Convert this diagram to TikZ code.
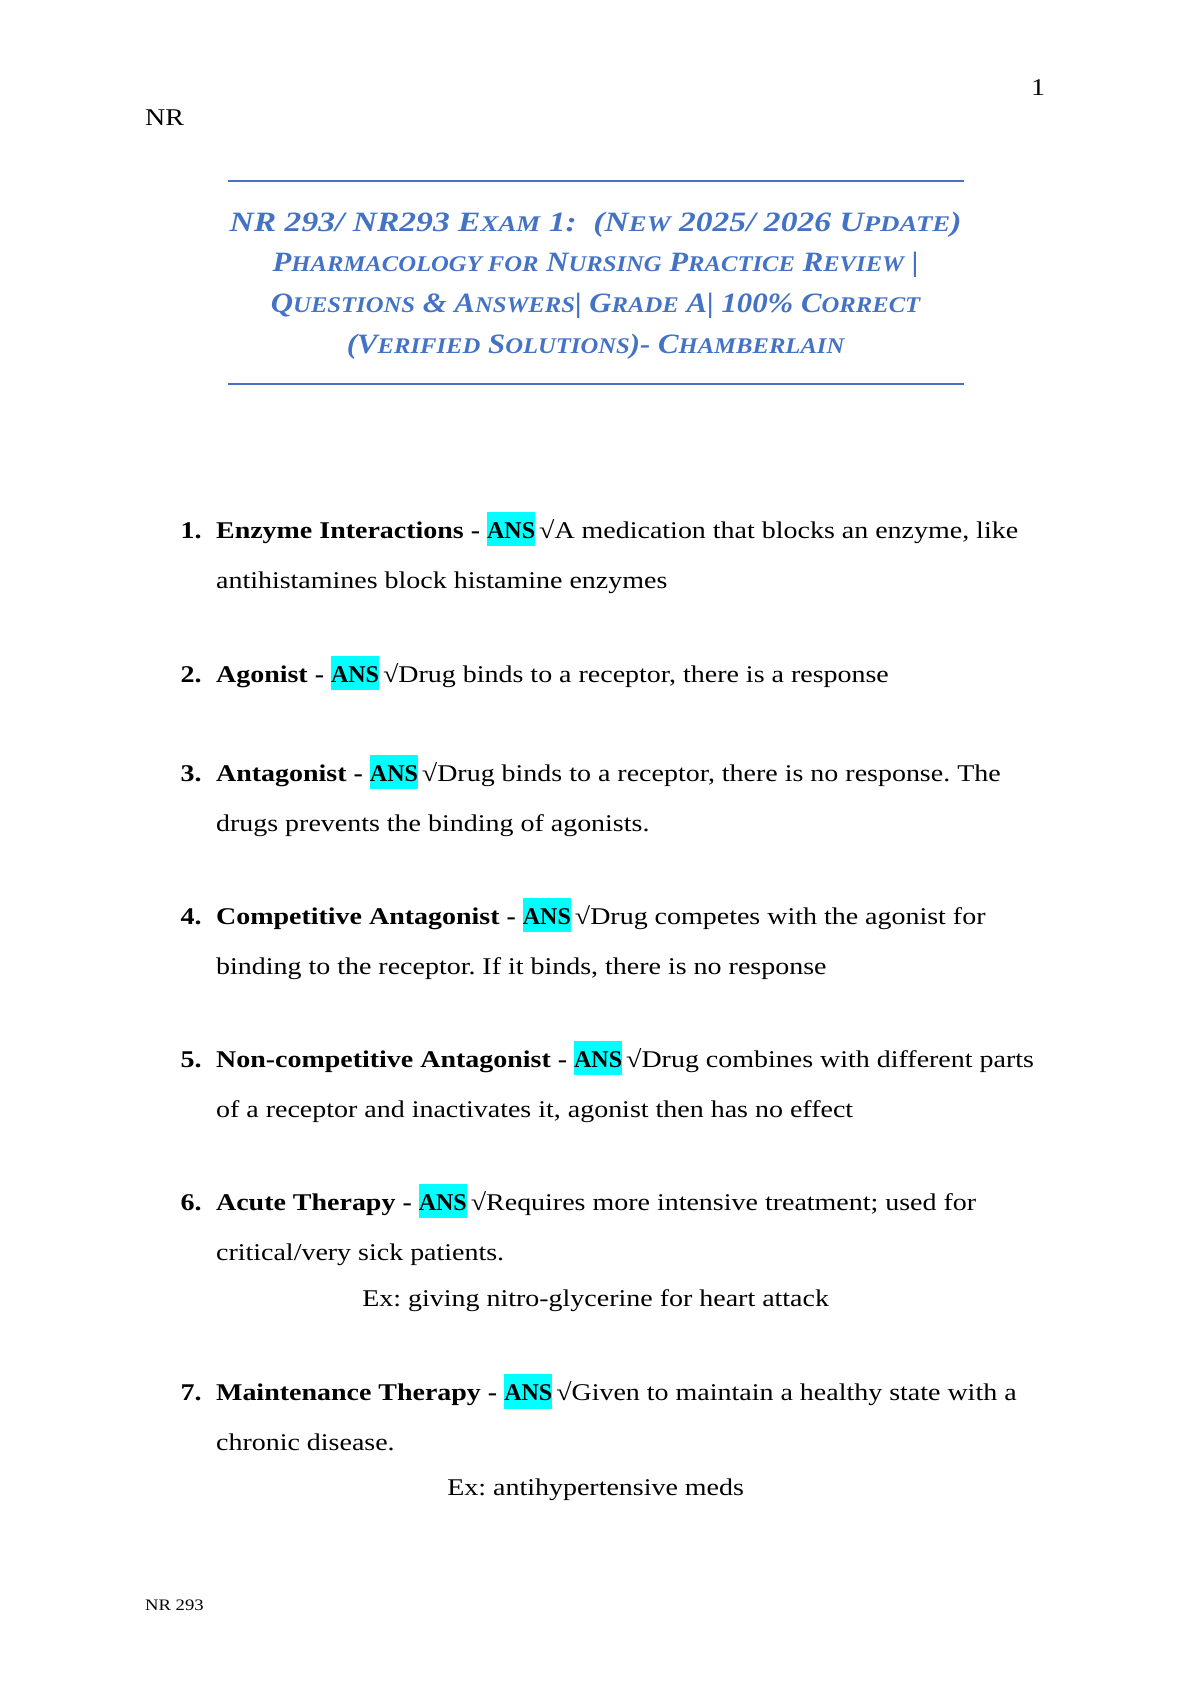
\documentclass[tikz,border=0pt]{standalone}
\usepackage{fontspec}
\usepackage{graphicx}
\setmainfont[FakeStretch=1.165]{Liberation Serif}
\newfontfamily\ttlfont[FakeStretch=1.1]{Liberation Serif}
\newfontfamily\ansfont{Liberation Serif}
\usepackage{xcolor}
\usetikzlibrary{positioning}
\frenchspacing

\definecolor{ttlblue}{HTML}{4472C4}
\definecolor{hlcyan}{HTML}{00FFFF}

% fake small caps for the title
\newcommand{\sm}[1]{{\fontsize{11.2}{13}\selectfont\uppercase{#1}}}
% highlighted answer tag
\newcommand{\ans}{{\setlength{\fboxsep}{0pt}\colorbox{hlcyan}{\rule[-3.8pt]{0pt}{17.3pt}\ansfont\bfseries ANS}}}

\begin{document}
\begin{tikzpicture}[x=0.5375pt, y=-0.5375pt,
  every node/.style={inner sep=0pt, outer sep=0pt},
  body/.style={anchor=base west, font=\fontsize{12}{14}\selectfont},
  num/.style={body, font=\fontsize{12}{14}\selectfont\bfseries},
  ex/.style={anchor=base, font=\fontsize{12}{14}\selectfont},
  ttl/.style={anchor=base, text=ttlblue, font=\ttlfont\fontsize{14}{16}\selectfont\bfseries\itshape},
  rule/.style={draw=ttlblue, line width=0.9pt}]
\useasboundingbox (0,0) rectangle (1107.5,1566.3);

% header and footer
\node[anchor=base east, font=\fontsize{12}{14}\selectfont] (pg) at (972,89) {1};
\node[body] (hd) at (135,117) {NR};
\node[body, font=\fontsize{8}{10}\selectfont] (ft) at (135,1498) {NR 293};

% title block
\coordinate (r1a) at (212,168);
\coordinate (r1b) at (897,168);
\coordinate (r2a) at (212,357);
\coordinate (r2b) at (897,357);
\draw[rule] (r1a) -- (r1b);
\draw[rule] (r2a) -- (r2b);
\node[ttl] (ti1) at (554,215.5) {\scalebox{1.09}[1]{NR 293/ NR293 E\sm{xam} 1:\ \ (N\sm{ew} 2025/ 2026 U\sm{pdate})}};
\node[ttl] (ti2) at (554,252.5) {P\sm{harmacology for} N\sm{ursing} P\sm{ractice} R\sm{eview} |};
\node[ttl] (ti3) at (554,290.5) {Q\sm{uestions} \& A\sm{nswers}| G\sm{rade} A| 100\% C\sm{orrect}};
\node[ttl] (ti4) at (554,328.5) {(V\sm{erified} S\sm{olutions})- C\sm{hamberlain}};

% 1
\node[num] (n1) at (168,501) {1.};
\node[body] (q1) at (201,501) {\textbf{Enzyme Interactions -} \ans\,√A medication that blocks an enzyme, like};
\node[body] (q1b) [below=24.9pt of q1.base west, anchor=base west] {antihistamines block histamine enzymes};

% 2
\node[num] (n2) at (168,635) {2.};
\node[body] (q2) at (201,635) {\textbf{Agonist -} \ans\,√Drug binds to a receptor, there is a response};

% 3
\node[num] (n3) at (168,727) {3.};
\node[body] (q3) at (201,727) {\textbf{Antagonist -} \ans\,√Drug binds to a receptor, there is no response. The};
\node[body] (q3b) [below=24.9pt of q3.base west, anchor=base west] {drugs prevents the binding of agonists.};

% 4
\node[num] (n4) at (168,860) {4.};
\node[body] (q4) at (201,860) {\textbf{Competitive Antagonist -} \ans\,√Drug competes with the agonist for};
\node[body] (q4b) [below=24.9pt of q4.base west, anchor=base west] {binding to the receptor. If it binds, there is no response};

% 5
\node[num] (n5) at (168,993) {5.};
\node[body] (q5) at (201,993) {\textbf{Non-competitive Antagonist -} \ans\,√Drug combines with different parts};
\node[body] (q5b) [below=24.9pt of q5.base west, anchor=base west] {of a receptor and inactivates it, agonist then has no effect};

% 6
\node[num] (n6) at (168,1126) {6.};
\node[body] (q6) at (201,1126) {\textbf{Acute Therapy -} \ans\,√Requires more intensive treatment; used for};
\node[body] (q6b) [below=24.9pt of q6.base west, anchor=base west] {critical/very sick patients.};
\node[ex] (x6) at (554,1215) {Ex: giving nitro-glycerine for heart attack};

% 7
\node[num] (n7) at (168,1303) {7.};
\node[body] (q7) at (201,1303) {\textbf{Maintenance Therapy -} \ans\,√Given to maintain a healthy state with a};
\node[body] (q7b) [below=24.9pt of q7.base west, anchor=base west] {chronic disease.};
\node[ex] (x7) at (554,1391) {Ex: antihypertensive meds};
\end{tikzpicture}
\end{document}
